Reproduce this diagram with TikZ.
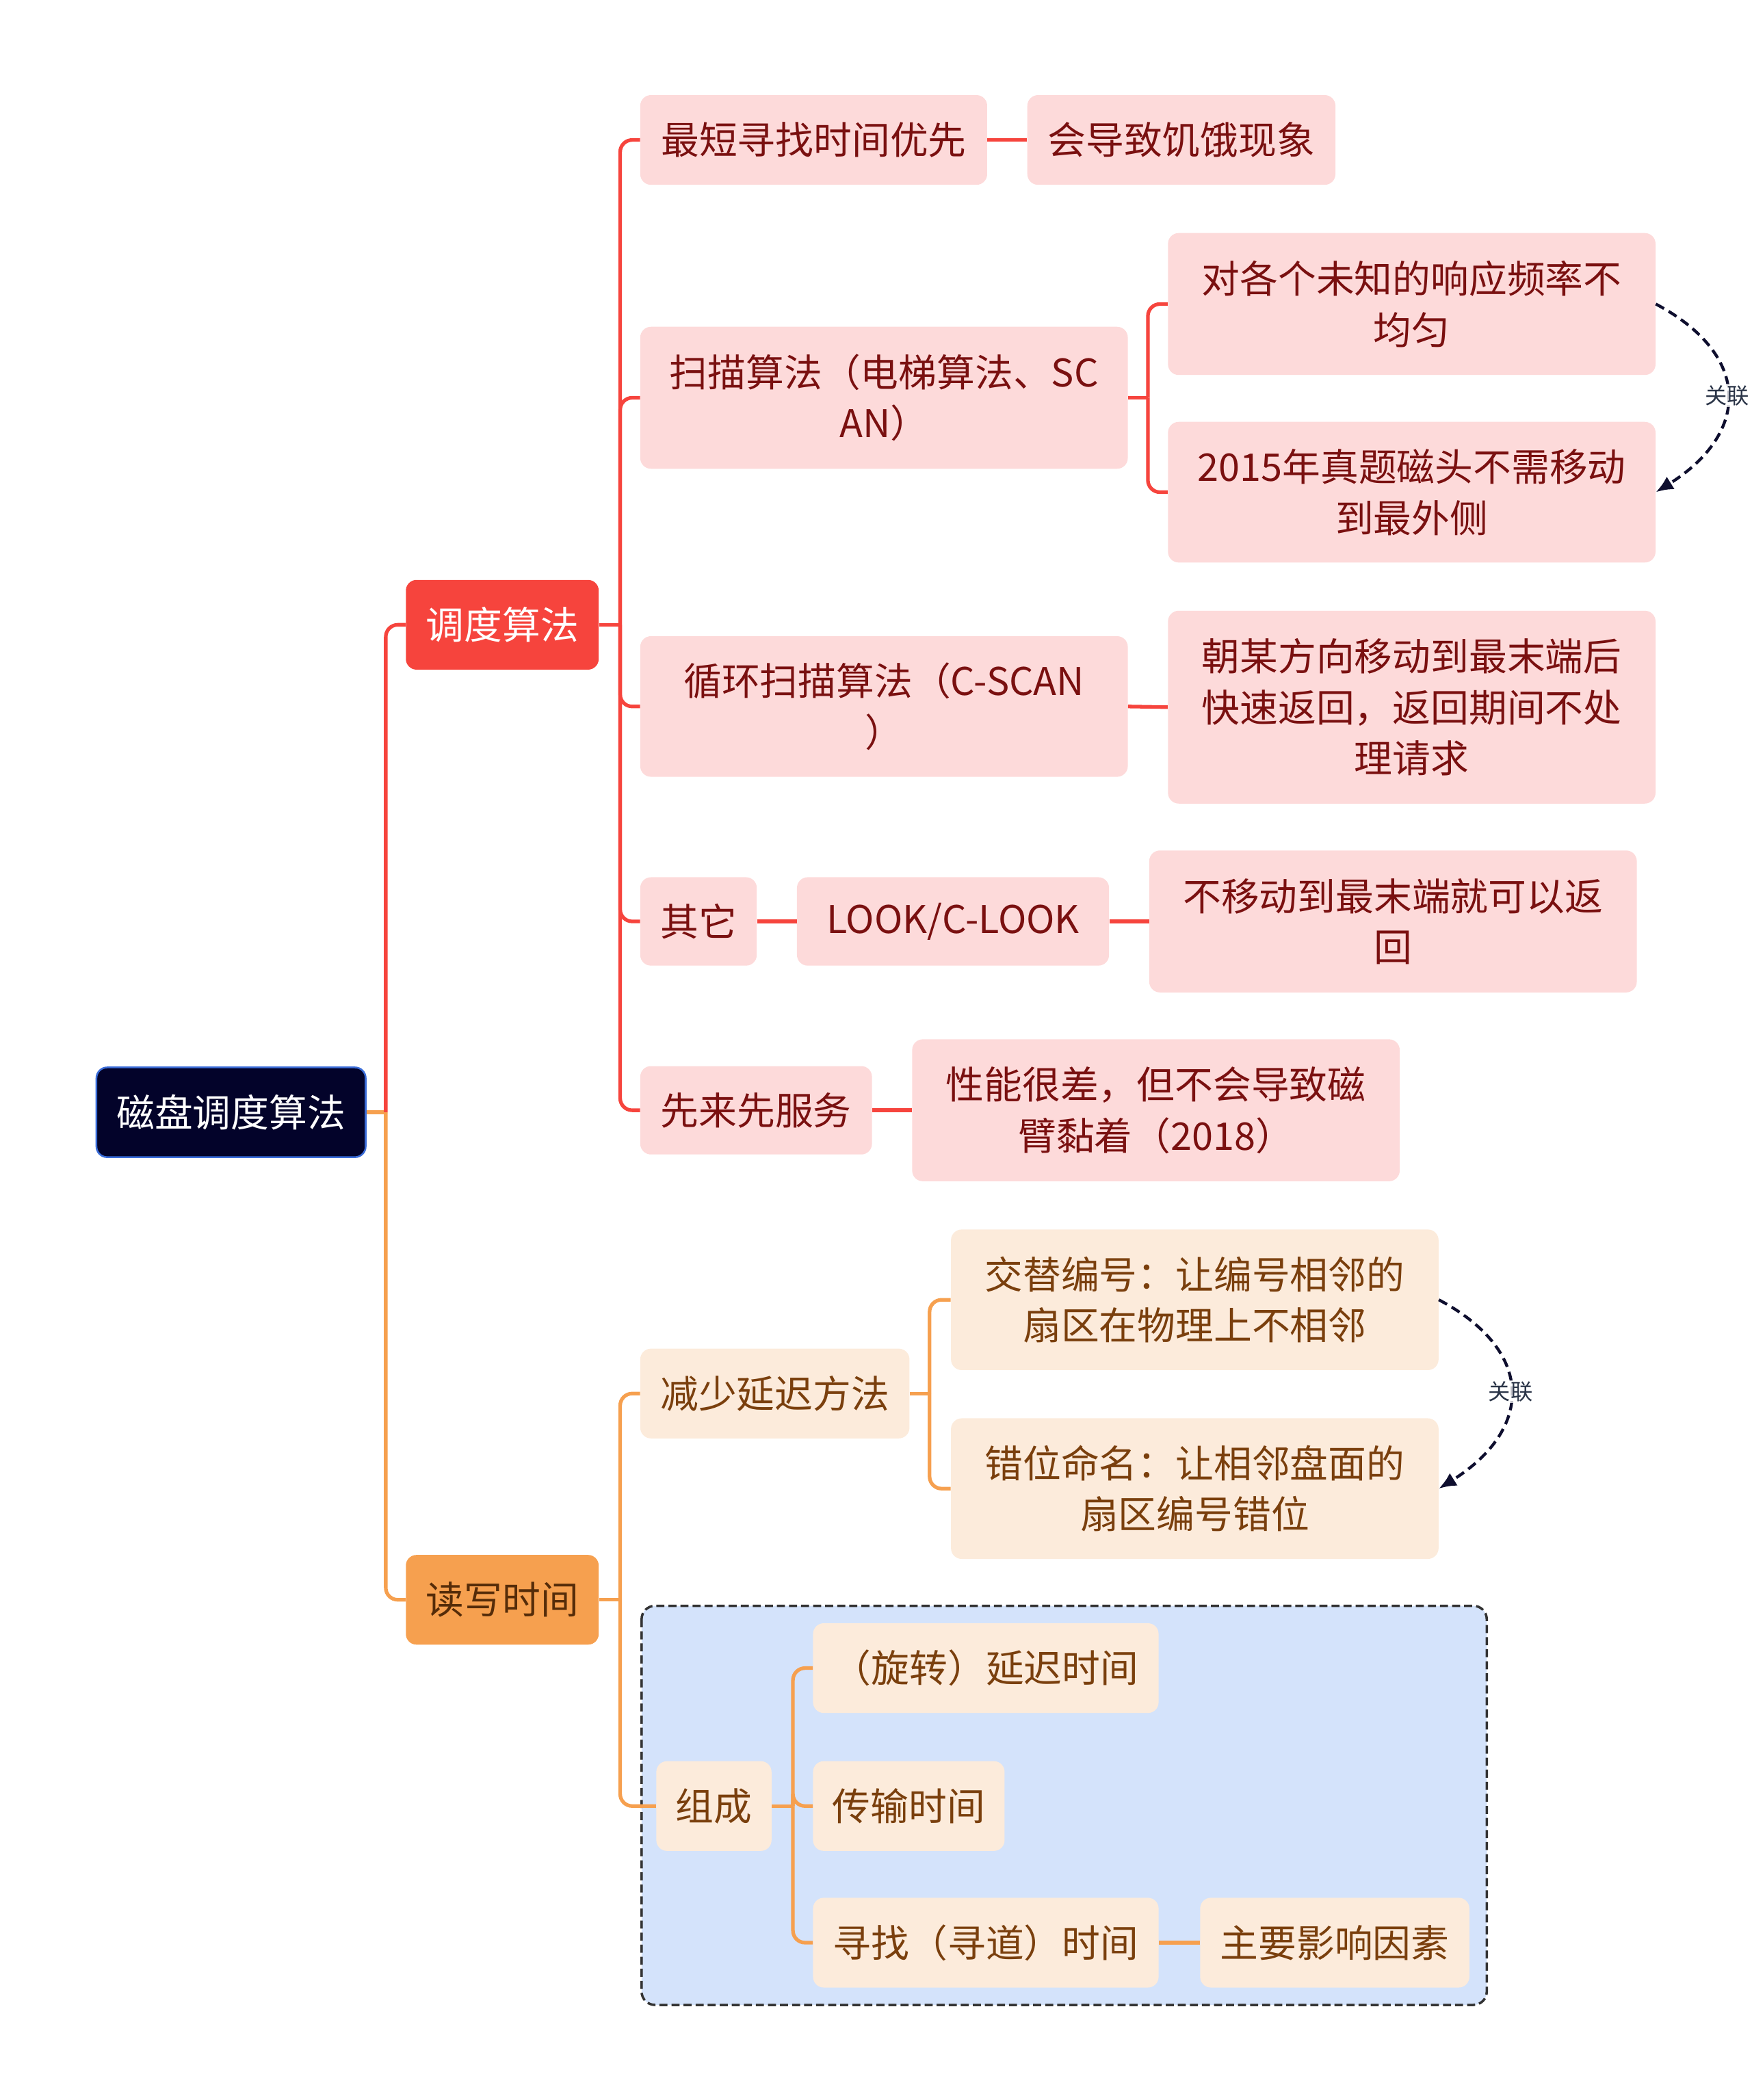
\documentclass[tikz,border=0pt]{standalone}
\usepackage{fontspec}
\setmainfont{Noto Sans CJK SC}
\usetikzlibrary{arrows.meta}

\definecolor{rootnavy}{HTML}{03032A}
\definecolor{rootedge}{HTML}{3A6CD8}
\definecolor{schedred}{HTML}{F6443D}
\definecolor{pinkfill}{HTML}{FDDADA}
\definecolor{pinktext}{HTML}{7A1010}
\definecolor{rworange}{HTML}{F6A04F}
\definecolor{peachfill}{HTML}{FCEBDB}
\definecolor{peachtext}{HTML}{7A3F0D}
\definecolor{groupblue}{HTML}{D4E3FB}
\definecolor{groupedge}{HTML}{333333}
\definecolor{relink}{HTML}{0E0E2E}
\definecolor{reltext}{HTML}{2B3548}

\tikzset{
  box/.style={rounded corners=8pt, inner sep=0pt, align=center,
    font=\fontsize{28.5}{38}\selectfont},
  boxsize/.style 2 args={minimum width=#1pt, minimum height=#2pt},
  rootbox/.style={box, fill=rootnavy, draw=rootedge, line width=1.3pt, text=white},
  redbox/.style={box, fill=schedred, text=white},
  pinkbox/.style={box, fill=pinkfill, text=pinktext},
  orangebox/.style={box, fill=rworange, text=peachtext!70!black},
  peachbox/.style={box, fill=peachfill, text=peachtext},
  redline/.style={draw=schedred, line width=2.7pt, rounded corners=9pt},
  orgline/.style={draw=rworange, line width=2.7pt, rounded corners=9pt},
  relarrow/.style={draw=relink, line width=2.2pt, dash pattern=on 7pt off 4pt,
    -{Latex[length=13pt,width=11pt]}, looseness=1.5},
  rellabel/.style={font=\fontsize{16.5}{18}\selectfont, text=reltext,
    fill=white, fill opacity=0.75, text opacity=1, inner sep=1pt},
}

\begin{document}
\begin{tikzpicture}[x=1pt, y=-1pt]
    \useasboundingbox (0,0) rectangle (1308,1568);

    % group frame round the parts of the time
    \draw[draw=groupedge, fill=groupblue, line width=1.8pt, dash pattern=on 6pt off 3pt,
        rounded corners=10pt] (479,1199) rectangle (1110,1497);

    \node[rootbox, boxsize={201}{67}] (root) at (172.5,830.5) {磁盘调度算法};
    \node[redbox, boxsize={144}{67}] (sched) at (375,466.5) {调度算法};
    \node[orangebox, boxsize={144}{67}] (rw) at (375,1194.5) {读写时间};

    % scheduling branch
    \node[pinkbox, boxsize={259}{67}] (sstf) at (607.5,104.5) {最短寻找时间优先};
    \node[pinkbox, boxsize={230}{67}] (starve) at (882,104.5) {会导致饥饿现象};
    \node[pinkbox, boxsize={364}{106}] (scan) at (660,297) {扫描算法（电梯算法、SC\\AN）};
    \node[pinkbox, boxsize={364}{106}] (nonuni) at (1054,227) {对各个未知的响应频率不\\均匀};
    \node[pinkbox, boxsize={364}{105}] (exam15) at (1054,367.5) {2015年真题磁头不需移动\\到最外侧};
    \node[pinkbox, boxsize={364}{105}] (cscan) at (660,527.5) {循环扫描算法（C-SCAN\\）};
    \node[pinkbox, boxsize={364}{144}] (fastret) at (1054,528) {朝某方向移动到最末端后\\快速返回，返回期间不处\\理请求};
    \node[pinkbox, boxsize={87}{66}] (other) at (521.5,688) {其它};
    \node[pinkbox, boxsize={233}{66}] (look) at (711.5,688) {LOOK/C-LOOK};
    \node[pinkbox, boxsize={364}{106}] (noreturn) at (1040,688) {不移动到最末端就可以返\\回};
    \node[pinkbox, boxsize={173}{66}] (fcfs) at (564.5,829) {先来先服务};
    \node[pinkbox, boxsize={364}{106}] (poor) at (863,829) {性能很差，但不会导致磁\\臂黏着（2018）};

    % read/write time branch
    \node[peachbox, boxsize={201}{67}] (reduce) at (578.5,1040.5) {减少延迟方法};
    \node[peachbox, boxsize={364}{105}] (altnum) at (892,970.5) {交替编号：让编号相邻的\\扇区在物理上不相邻};
    \node[peachbox, boxsize={364}{105}] (misname) at (892,1111.5) {错位命名：让相邻盘面的\\扇区编号错位};
    \node[peachbox, boxsize={86}{67}] (compose) at (533,1348.5) {组成};
    \node[peachbox, boxsize={258}{67}] (rotate) at (736,1245.5) {（旋转）延迟时间};
    \node[peachbox, boxsize={143}{67}] (transfer) at (678.5,1348.5) {传输时间};
    \node[peachbox, boxsize={258}{67}] (seek) at (736,1450.5) {寻找（寻道）时间};
    \node[peachbox, boxsize={201}{67}] (factor) at (996.5,1450.5) {主要影响因素};

    \coordinate (rootfork) at (288,830.5);
    \coordinate (schedfork) at (463,466.5);
    \coordinate (scanfork) at (857,297);
    \coordinate (rwfork) at (463,1194.5);
    \coordinate (reducefork) at (694,1040.5);
    \coordinate (composefork) at (592,1348.5);

    \draw[orgline] (root.east) -- (rootfork);
    \draw[redline] (rootfork) |- (sched.west);
    \draw[orgline] (rootfork) |- (rw.west);

    \draw[redline] (sched.east) -- (schedfork);
    \foreach \c in {sstf,scan,cscan,other,fcfs}
        \draw[redline] (schedfork) |- (\c.west);
    \draw[redline] (scan.east) -- (scanfork);
    \foreach \c in {nonuni,exam15}
        \draw[redline] (scanfork) |- (\c.west);
    \draw[redline] (sstf.east) -- (starve.west);
    \draw[redline] (cscan.east) -- (fastret.west);
    \draw[redline] (other.east) -- (look.west);
    \draw[redline] (look.east) -- (noreturn.west);
    \draw[redline] (fcfs.east) -- (poor.west);

    \draw[orgline] (rw.east) -- (rwfork);
    \foreach \c in {reduce,compose}
        \draw[orgline] (rwfork) |- (\c.west);
    \draw[orgline] (reduce.east) -- (reducefork);
    \foreach \c in {altnum,misname}
        \draw[orgline] (reducefork) |- (\c.west);
    \draw[orgline] (compose.east) -- (composefork);
    \foreach \c in {rotate,transfer,seek}
        \draw[orgline] (composefork) |- (\c.west);
    \draw[orgline] (seek.east) -- (factor.west);

    % relations
    \draw[relarrow] (nonuni.east) to[out=-28, in=32]
        node[rellabel] (rel1) {关联} (exam15.east);
    \draw[relarrow] (altnum.east) to[out=-28, in=32]
        node[rellabel] (rel2) {关联} (misname.east);
\end{tikzpicture}
\end{document}
